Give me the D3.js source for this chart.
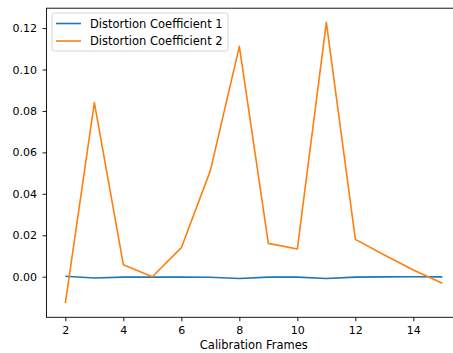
<!DOCTYPE html>
<html>
<head>
<meta charset="utf-8">
<script src="https://cdn.jsdelivr.net/npm/d3@7"></script>
<style>
    body { margin: 0; background: #fff; }
    svg { display: block; font-family: "DejaVu Sans", sans-serif; }
</style>
</head>
<body>
<svg id="chart"></svg>
<script>
// data
const frames = [2, 3, 4, 5, 6, 7, 8, 9, 10, 11, 12, 13, 14, 15];
const coeff1 = [0.0002, -0.0006, -0.0002, -0.0002, -0.0002, -0.0003, -0.0009, -0.0002, -0.0002, -0.0009, -0.0002, -0.0001, 0.0000, -0.0001];
const coeff2 = [-0.0128, 0.0840, 0.0058, 0.0000, 0.0140, 0.0512, 0.1112, 0.0161, 0.0134, 0.1228, 0.0180, 0.0105, 0.0032, -0.0032];
const seriesNames = ["Distortion Coefficient 1", "Distortion Coefficient 2"];
const seriesColors = ["#1f77b4", "#ff7f0e"];
const xTicks = [2, 4, 6, 8, 10, 12, 14];
const yTicks = [0.00, 0.02, 0.04, 0.06, 0.08, 0.10, 0.12];

const width = 453, height = 353;
const margin = {top: 8.2, left: 46.5};
const plotW = 414.7, plotH = 309.1;

const svg = d3.select("#chart")
    .attr("width", width)
    .attr("height", height);

const g = svg.append("g")
    .attr("transform", `translate(${margin.left},${margin.top})`);

const x = d3.scaleLinear().domain([1.35, 15.65]).range([0, plotW]);
const y = d3.scaleLinear().domain([-0.0196, 0.1296]).range([plotH, 0]);

// Axes
const xAxis = g.append("g")
    .attr("transform", `translate(0,${plotH})`)
    .call(d3.axisBottom(x).tickValues(xTicks).tickFormat(d3.format("d")).tickSize(4).tickPadding(4.5));

const yAxis = g.append("g")
    .call(d3.axisLeft(y).tickValues(yTicks).tickFormat(d3.format(".2f")).tickSize(4).tickPadding(5.5));

[xAxis, yAxis].forEach(ax => {
    ax.selectAll("text").attr("font-size", 11).attr("fill", "#000")
        .attr("font-family", "DejaVu Sans, sans-serif");
    ax.selectAll("line").attr("stroke", "#000").attr("stroke-width", 0.9);
    ax.select(".domain").remove();
});

// Spines
g.append("rect")
    .attr("x", 0).attr("y", 0)
    .attr("width", plotW).attr("height", plotH)
    .attr("fill", "none")
    .attr("stroke", "#000")
    .attr("stroke-width", 0.9);

// Lines
const line = d3.line()
    .x(d => x(d[0]))
    .y(d => y(d[1]));

[coeff1, coeff2].forEach((vals, i) => {
    g.append("path")
        .datum(frames.map((f, j) => [f, vals[j]]))
        .attr("d", line)
        .attr("fill", "none")
        .attr("stroke", seriesColors[i])
        .attr("stroke-width", 1.6)
        .attr("stroke-linejoin", "round");
});

// Axis label
svg.append("text")
    .attr("x", margin.left + plotW / 2)
    .attr("y", 349.3)
    .attr("text-anchor", "middle")
    .attr("font-size", 11.5)
    .text("Calibration Frames");

// Legend
const legend = svg.append("g").attr("transform", "translate(52,13)");
legend.append("rect")
    .attr("width", 176).attr("height", 38)
    .attr("rx", 2.5)
    .attr("fill", "#fff").attr("fill-opacity", 0.8)
    .attr("stroke", "#d0d0d0").attr("stroke-width", 0.9);

seriesNames.forEach((name, i) => {
    const yy = 10.5 + i * 17.5;
    legend.append("line")
        .attr("x1", 4).attr("x2", 29)
        .attr("y1", yy).attr("y2", yy)
        .attr("stroke", seriesColors[i])
        .attr("stroke-width", 1.6);
    legend.append("text")
        .attr("x", 38).attr("y", yy)
        .attr("dy", "0.35em")
        .attr("font-size", 11.5)
        .text(name);
});
</script>
</body>
</html>
